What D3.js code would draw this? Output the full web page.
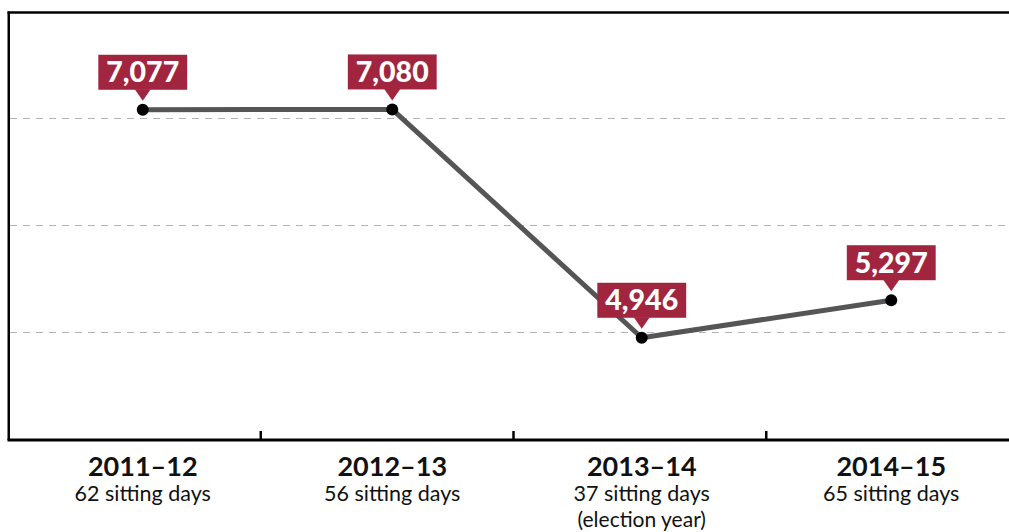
<!DOCTYPE html>
<html>
<head>
<meta charset="utf-8">
<script src="https://cdn.jsdelivr.net/npm/d3@7"></script>
<style>
  body { margin: 0; background: #fff; }
  svg { display: block; }
</style>
</head>
<body>
<div id="chart"></div>
<script>
var seasons = ["2011\u201312", "2012\u201313", "2013\u201314", "2014\u201315"];
var sittingDays = [62, 56, 37, 65];
var notes = ["", "", "(election year)", ""];
var questions = [7077, 7080, 4946, 5297];
var gridValues = [5000, 6000, 7000];

var width = 1009, height = 532;
var red = "#a2253f";

var svg = d3.select("#chart")
    .append("svg")
    .attr("width", width)
    .attr("height", height);

var x = d3.scalePoint()
    .domain(seasons)
    .range([18, 1016])
    .padding(0.5);

var band = d3.scaleBand()
    .domain(seasons)
    .range([8, 1019]);

var y = d3.scaleLinear()
    .domain([4000, 8000])
    .range([439, 11]);

// gridlines
svg.selectAll(".grid")
    .data(gridValues)
    .enter()
    .append("line")
    .attr("class", "grid")
    .attr("x1", 10)
    .attr("x2", width)
    .attr("y1", function(d) { return y(d) + 0.5; })
    .attr("y2", function(d) { return y(d) + 0.5; })
    .attr("stroke", "#b3b3b3")
    .attr("stroke-width", 1)
    .attr("stroke-dasharray", "7,6");

// frame: top and left
svg.append("line")
    .attr("x1", 7.5).attr("x2", width)
    .attr("y1", 12.5).attr("y2", 12.5)
    .attr("stroke", "#000").attr("stroke-width", 2.5);
svg.append("line")
    .attr("x1", 8.75).attr("x2", 8.75)
    .attr("y1", 11.5).attr("y2", y(4000) + 1)
    .attr("stroke", "#000").attr("stroke-width", 2.5);

// bottom axis with ticks between seasons
svg.append("line")
    .attr("x1", 7.5).attr("x2", width)
    .attr("y1", y(4000) + 1).attr("y2", y(4000) + 1)
    .attr("stroke", "#000").attr("stroke-width", 3);

svg.selectAll(".tick")
    .data(seasons.slice(1))
    .enter()
    .append("line")
    .attr("class", "tick")
    .attr("x1", function(d) { return band(d); })
    .attr("x2", function(d) { return band(d); })
    .attr("y1", y(4000) - 8)
    .attr("y2", y(4000))
    .attr("stroke", "#000")
    .attr("stroke-width", 2.5);

// line
var points = seasons.map(function(s, i) { return { season: s, value: questions[i] }; });

var line = d3.line()
    .x(function(d) { return x(d.season); })
    .y(function(d) { return y(d.value); });

svg.append("path")
    .datum(points)
    .attr("d", line)
    .attr("fill", "none")
    .attr("stroke", "#555")
    .attr("stroke-width", 5)
    .attr("stroke-linejoin", "round");

svg.selectAll(".dot")
    .data(points)
    .enter()
    .append("circle")
    .attr("class", "dot")
    .attr("cx", function(d) { return x(d.season); })
    .attr("cy", function(d) { return y(d.value); })
    .attr("r", 6)
    .attr("fill", "#000");

// value labels
var fmt = d3.format(",");
var label = svg.selectAll(".label")
    .data(points)
    .enter()
    .append("g")
    .attr("class", "label")
    .attr("transform", function(d) {
        return "translate(" + x(d.season) + "," + y(d.value) + ")";
    });

label.each(function(d) {
    var g = d3.select(this);
    var box = g.append("rect").attr("fill", red);
    var tip = g.append("path").attr("fill", red);
    var txt = g.append("text")
        .attr("text-anchor", "middle")
        .attr("y", -27.5)
        .attr("font-family", "Lato, 'Open Sans', sans-serif")
        .attr("font-weight", 900)
        .attr("font-size", 28.5)
        .attr("fill", "#fff")
        .text(fmt(d.value));
    var w = txt.node().getComputedTextLength() + 16;
    box.attr("x", -w / 2).attr("y", -55).attr("width", w).attr("height", 35);
    tip.attr("d", "M-8,-20.5L8,-20.5L0,-9Z");
});

// category labels
var cat = svg.selectAll(".cat")
    .data(seasons)
    .enter()
    .append("g")
    .attr("class", "cat")
    .attr("transform", function(d) { return "translate(" + x(d) + ",0)"; });

cat.append("text")
    .attr("text-anchor", "middle")
    .attr("y", 476)
    .attr("font-family", "Lato, sans-serif")
    .attr("font-weight", 700)
    .attr("font-size", 27)
    .attr("fill", "#111")
    .text(function(d) { return d; });

cat.append("text")
    .attr("text-anchor", "middle")
    .attr("y", 501)
    .attr("font-family", "Lato, sans-serif")
    .attr("font-size", 21.5)
    .attr("fill", "#111")
    .text(function(d, i) { return sittingDays[i] + " sitting days"; });

cat.append("text")
    .attr("text-anchor", "middle")
    .attr("y", 526.5)
    .attr("font-family", "Lato, sans-serif")
    .attr("font-size", 21)
    .attr("fill", "#111")
    .text(function(d, i) { return notes[i]; });
</script>
</body>
</html>
